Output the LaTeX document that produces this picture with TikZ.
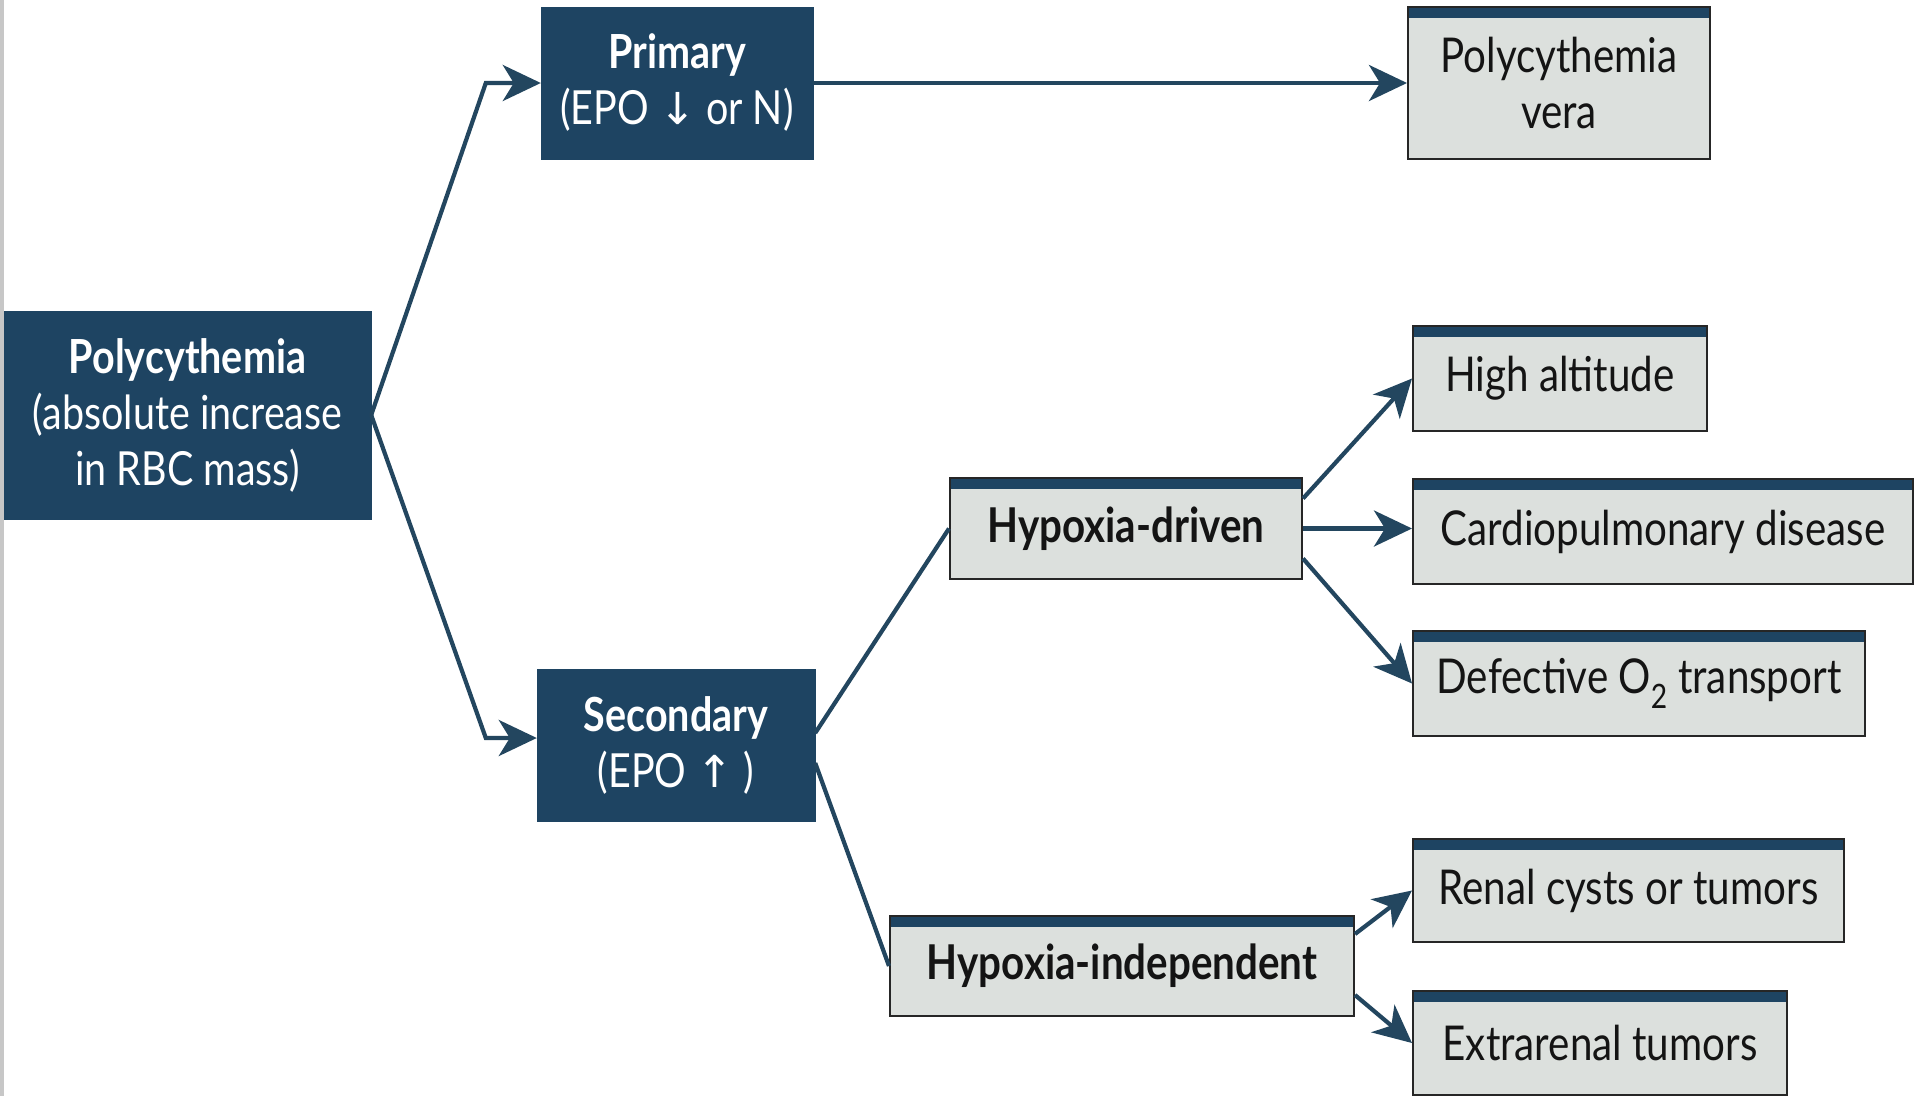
\documentclass[tikz,border=0pt]{standalone}
\usepackage{fontspec}
\setmainfont{Lato}[FakeStretch=0.84]
\newfontfamily\symfont{DejaVu Sans}
\usetikzlibrary{arrows.meta}
\definecolor{navy}{HTML}{1E4462}
\definecolor{arrowc}{HTML}{23465F}
\definecolor{boxfill}{HTML}{DCE0DD}
\begin{document}
\begin{tikzpicture}[x=1pt,y=-1pt,
  darkbox/.style={fill=navy, draw=navy, text=white, align=center, inner sep=0pt,
    font=\fontsize{47}{56}\selectfont},
  lightbox/.style={fill=boxfill, draw=black!85, line width=2pt, text=black!92, align=center, inner sep=0pt,
    font=\fontsize{48}{56}\selectfont,
    path picture={\fill[navy] (path picture bounding box.north west) rectangle ([yshift=-11pt]path picture bounding box.north east);}},
  conn/.style={draw=arrowc, line width=4.2pt},
  arr/.style={conn, -{Stealth[length=38pt,width=36pt,inset=11pt]}}
]
\useasboundingbox (0,0) rectangle (1915,1096);
\fill[white] (0,0) rectangle (1915,1096);
\fill[black!22] (0,0) rectangle (4,1096);

% dark boxes
\node[darkbox, minimum width=367pt, minimum height=208pt] (poly) at (187.5,415)
  {\textbf{Polycythemia}\\(absolute increase\\in RBC mass)};
\node[darkbox, minimum width=272pt, minimum height=152pt] (prim) at (677,83)
  {\textbf{Primary}\\(EPO {\symfont\fontsize{44}{56}\selectfont ↓} or N)};
\node[darkbox, minimum width=278pt, minimum height=152pt] (sec) at (676,745)
  {\textbf{Secondary}\\(EPO {\symfont\fontsize{44}{56}\selectfont ↑} )};

% light boxes
\node[lightbox, minimum width=302pt, minimum height=152pt] (pv) at (1559,83)
  {Polycythemia\\vera};
\node[lightbox, minimum width=352pt, minimum height=101pt] (hd) at (1126,528.5)
  {\textbf{Hypoxia-driven}};
\node[lightbox, minimum width=464pt, minimum height=100pt] (hi) at (1122,966)
  {\textbf{Hypoxia-independent}};
\node[lightbox, minimum width=294pt, minimum height=105pt] (ha) at (1560,378.5)
  {High altitude};
\node[lightbox, minimum width=500pt, minimum height=105pt] (cd) at (1663,531.5)
  {Cardiopulmonary disease};
\node[lightbox, minimum width=452pt, minimum height=105pt] (dt) at (1639,683.5)
  {Defective O\textsubscript{2} transport};
\node[lightbox, minimum width=431pt, minimum height=103pt] (rc) at (1628.5,890.5)
  {Renal cysts or tumors};
\node[lightbox, minimum width=374pt, minimum height=104pt] (et) at (1600,1043)
  {Extrarenal tumors};

% connectors
\draw[arr] (poly.east) -- ([xshift=-55pt]prim.west) -- (prim.west);
\draw[arr] (poly.east) -- ([shift={(-51pt,7pt)}]sec.west) -- ([yshift=7pt]sec.west);
\draw[arr] (prim.east) -- (pv.west);
\draw[conn] ([yshift=12pt]sec.east) -- (hd.west);
\draw[conn] ([yshift=-18pt]sec.east) -- (hi.west);
\draw[arr] ([yshift=30pt]hd.east) -- (ha.west);
\draw[arr] (hd.east) -- (hd.east -| cd.west);
\draw[arr] ([yshift=-30pt]hd.east) -- (dt.west);
\draw[arr] ([yshift=32pt]hi.east) -- (rc.west);
\draw[arr] ([yshift=-29pt]hi.east) -- (et.west);
\end{tikzpicture}
\end{document}
